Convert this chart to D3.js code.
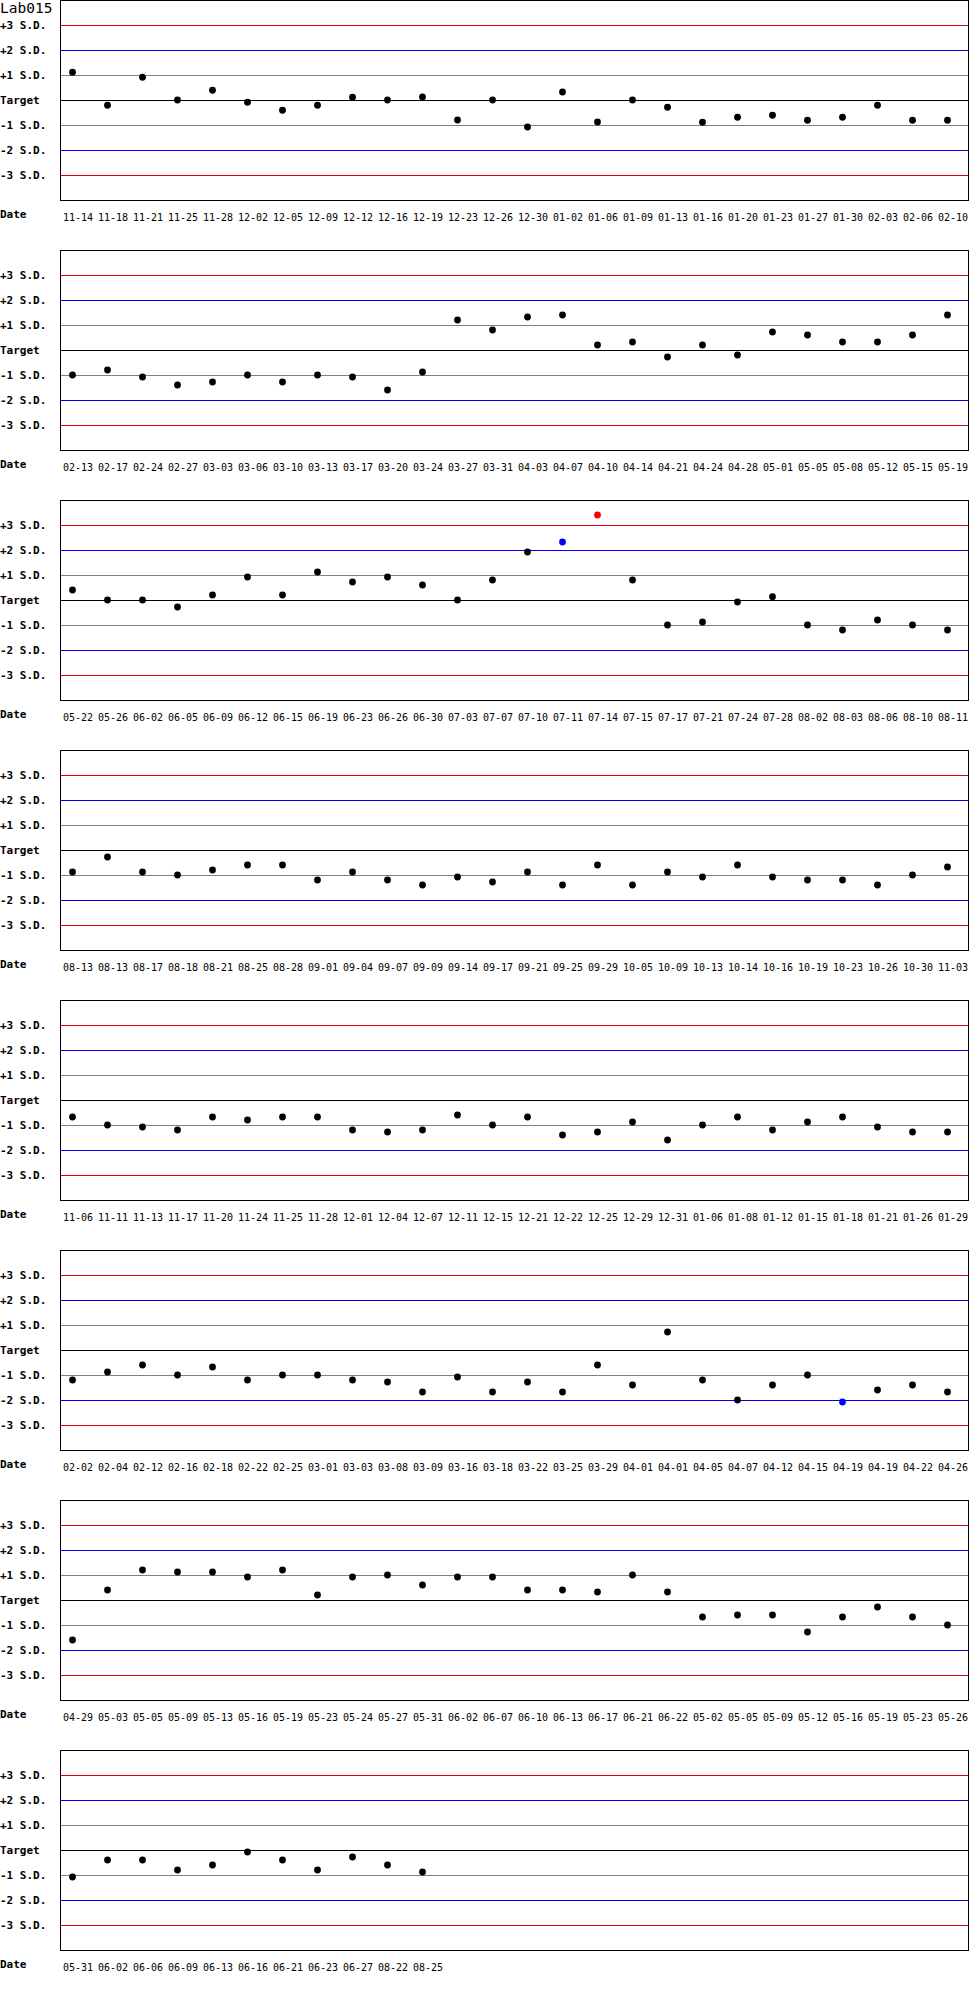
<!DOCTYPE html>
<html><head><meta charset="utf-8">
<script src="https://cdn.jsdelivr.net/npm/d3@7"></script>
<style>body{margin:0;background:#fff} svg{display:block}</style>
</head><body><svg id="c" width="970" height="2000"></svg>
<script>
const chartTitle = "Lab015";
const axisTitle = "Date";
const sdLevels = [3, 2, 1, 0, -1, -2, -3];
const sdLabels = ["+3 S.D.", "+2 S.D.", "+1 S.D.", "Target", "-1 S.D.", "-2 S.D.", "-3 S.D."];

const dates1 = ["11-14","11-18","11-21","11-25","11-28","12-02","12-05","12-09","12-12","12-16","12-19","12-23","12-26","12-30","01-02","01-06","01-09","01-13","01-16","01-20","01-23","01-27","01-30","02-03","02-06","02-10"];
const values1 = [1.11,-0.21,0.91,0,0.39,-0.09,-0.41,-0.21,0.11,0,0.12,-0.8,0,-1.08,0.32,-0.88,0,-0.29,-0.89,-0.69,-0.61,-0.81,-0.69,-0.21,-0.81,-0.81];

const dates2 = ["02-13","02-17","02-24","02-27","03-03","03-06","03-10","03-13","03-17","03-20","03-24","03-27","03-31","04-03","04-07","04-10","04-14","04-21","04-24","04-28","05-01","05-05","05-08","05-12","05-15","05-19"];
const values2 = [-1.0,-0.8,-1.08,-1.4,-1.28,-1.0,-1.28,-1.0,-1.08,-1.6,-0.88,1.2,0.8,1.32,1.4,0.2,0.32,-0.28,0.2,-0.2,0.72,0.6,0.32,0.32,0.6,1.4];

const dates3 = ["05-22","05-26","06-02","06-05","06-09","06-12","06-15","06-19","06-23","06-26","06-30","07-03","07-07","07-10","07-11","07-14","07-15","07-17","07-21","07-24","07-28","08-02","08-03","08-06","08-10","08-11"];
const values3 = [0.4,0,0,-0.28,0.2,0.92,0.2,1.12,0.72,0.92,0.6,0,0.8,1.92,2.32,3.4,0.8,-1.0,-0.88,-0.08,0.13,-1.0,-1.2,-0.8,-1.0,-1.2];

const dates4 = ["08-13","08-13","08-17","08-18","08-21","08-25","08-28","09-01","09-04","09-07","09-09","09-14","09-17","09-21","09-25","09-29","10-05","10-09","10-13","10-14","10-16","10-19","10-23","10-26","10-30","11-03"];
const values4 = [-0.88,-0.28,-0.88,-1.0,-0.8,-0.6,-0.6,-1.2,-0.88,-1.2,-1.4,-1.08,-1.28,-0.88,-1.4,-0.6,-1.4,-0.88,-1.08,-0.6,-1.08,-1.2,-1.2,-1.4,-1.0,-0.68];

const dates5 = ["11-06","11-11","11-13","11-17","11-20","11-24","11-25","11-28","12-01","12-04","12-07","12-11","12-15","12-21","12-22","12-25","12-29","12-31","01-06","01-08","01-12","01-15","01-18","01-21","01-26","01-29"];
const values5 = [-0.68,-1.0,-1.08,-1.2,-0.68,-0.8,-0.68,-0.68,-1.2,-1.28,-1.2,-0.6,-1.0,-0.68,-1.4,-1.28,-0.88,-1.6,-1.0,-0.68,-1.2,-0.88,-0.68,-1.08,-1.28,-1.28];

const dates6 = ["02-02","02-04","02-12","02-16","02-18","02-22","02-25","03-01","03-03","03-08","03-09","03-16","03-18","03-22","03-25","03-29","04-01","04-01","04-05","04-07","04-12","04-15","04-19","04-19","04-22","04-26"];
const values6 = [-1.2,-0.88,-0.6,-1.0,-0.68,-1.2,-1.0,-1.0,-1.2,-1.28,-1.68,-1.08,-1.68,-1.28,-1.68,-0.6,-1.4,0.72,-1.2,-2.0,-1.4,-1.0,-2.08,-1.6,-1.4,-1.68];

const dates7 = ["04-29","05-03","05-05","05-09","05-13","05-16","05-19","05-23","05-24","05-27","05-31","06-02","06-07","06-10","06-13","06-17","06-21","06-22","05-02","05-05","05-09","05-12","05-16","05-19","05-23","05-26"];
const values7 = [-1.6,0.4,1.2,1.12,1.12,0.92,1.2,0.2,0.92,1.0,0.6,0.92,0.92,0.4,0.4,0.32,1.0,0.32,-0.68,-0.6,-0.6,-1.28,-0.68,-0.28,-0.68,-1.0];

const dates8 = ["05-31","06-02","06-06","06-09","06-13","06-16","06-21","06-23","06-27","08-22","08-25"];
const values8 = [-1.08,-0.4,-0.4,-0.8,-0.6,-0.08,-0.4,-0.8,-0.28,-0.6,-0.88];

const panels = [
  {dates: dates1, values: values1},
  {dates: dates2, values: values2},
  {dates: dates3, values: values3},
  {dates: dates4, values: values4},
  {dates: dates5, values: values5},
  {dates: dates6, values: values6},
  {dates: dates7, values: values7},
  {dates: dates8, values: values8}
];

const svg = d3.select("#c");
const PANEL_STEP = 250;
const x = d3.scaleLinear().domain([0, 25]).range([72.5, 947.5]);
const y = d3.scaleLinear().domain([-4, 4]).range([200, 0]);
const PLOT_L = 60, PLOT_R = 968;

function lineColor(v) {
  const a = Math.abs(v);
  if (a === 3) return "#e00000";
  if (a === 2) return "#0000e6";
  if (a === 1) return "#808080";
  return "#000000";
}
function pointColor(v) {
  const a = Math.abs(v);
  if (a > 3) return "#ff0000";
  if (a > 2) return "#0000ff";
  return "#000000";
}

panels.forEach((p, k) => {
  const g = svg.append("g").attr("transform", `translate(0,${k * PANEL_STEP})`);

  // reference lines
  g.selectAll("line.ref").data(sdLevels).join("line")
    .attr("class", "ref")
    .attr("x1", PLOT_L).attr("x2", PLOT_R)
    .attr("y1", d => Math.round(y(d)) + 0.5)
    .attr("y2", d => Math.round(y(d)) + 0.5)
    .attr("stroke", d => lineColor(d))
    .attr("stroke-width", 1)
    .attr("shape-rendering", "crispEdges");

  // plot frame
  g.append("rect")
    .attr("x", PLOT_L + 0.5).attr("y", 0.5)
    .attr("width", PLOT_R - PLOT_L).attr("height", 200)
    .attr("fill", "none").attr("stroke", "#000").attr("stroke-width", 1)
    .attr("shape-rendering", "crispEdges");

  // y labels via axis
  const yAxis = d3.axisLeft(y).tickValues(sdLevels)
    .tickFormat((d, i) => sdLabels[i]).tickSize(0);
  const ya = g.append("g").call(yAxis);
  ya.select(".domain").remove();
  ya.selectAll("text")
    .attr("text-anchor", "start").attr("x", 0).attr("dy", "0.36em")
    .attr("fill", "#000")
    .style("font-family", "'DejaVu Sans Mono', monospace")
    .style("font-weight", "bold")
    .style("font-size", "11px");

  // x labels via axis
  const xAxis = d3.axisBottom(x).tickValues(d3.range(p.dates.length))
    .tickFormat(i => p.dates[i]).tickSize(0);
  const xa = g.append("g").attr("transform", "translate(0,200)").call(xAxis);
  xa.select(".domain").remove();
  xa.selectAll("text")
    .attr("text-anchor", "start").attr("x", -10).attr("y", 21).attr("dy", 0)
    .attr("fill", "#000")
    .style("font-family", "'DejaVu Sans Mono', monospace")
    .style("font-size", "10px");

  g.append("text").attr("x", 0).attr("y", 218).text(axisTitle)
    .style("font-family", "'DejaVu Sans Mono', monospace")
    .style("font-weight", "bold").style("font-size", "11px");

  // points
  g.selectAll("circle.pt").data(p.values).join("circle")
    .attr("class", "pt")
    .attr("cx", (d, i) => x(i))
    .attr("cy", d => y(d))
    .attr("r", 3.4)
    .attr("fill", d => pointColor(d));

  if (k === 0) {
    g.append("text").attr("x", 0).attr("y", 13).text(chartTitle)
      .style("font-family", "'DejaVu Sans Mono', monospace")
      .style("font-size", "14.5px");
  }
});
</script></body></html>
